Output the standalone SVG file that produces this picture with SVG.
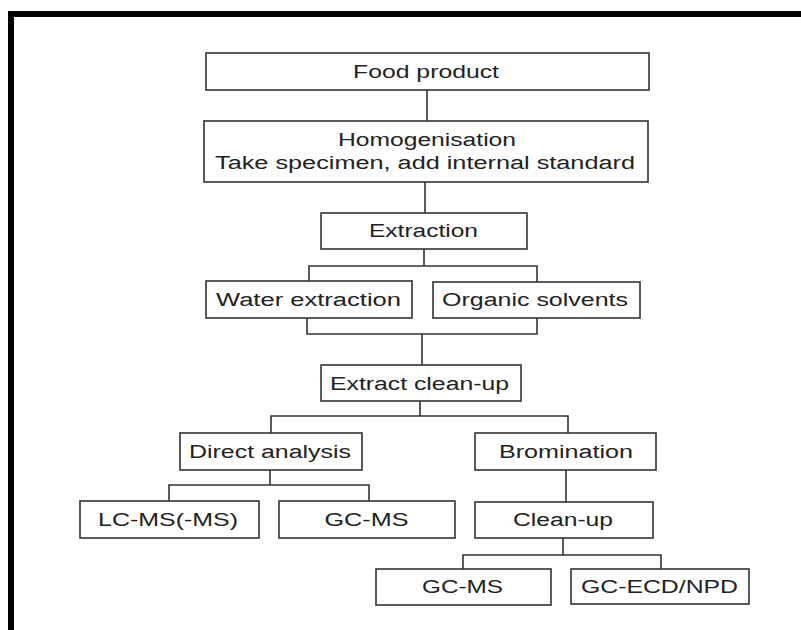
<svg xmlns="http://www.w3.org/2000/svg" width="801" height="630" viewBox="0 0 801 630">
<style>
.box{fill:#fff;stroke:#333;stroke-width:1.6}
.lbl{font-family:"Liberation Sans",Arial,sans-serif;font-size:18px;fill:#222;text-anchor:middle}
.con{fill:none;stroke:#333;stroke-width:1.6}
</style>
<rect x="0" y="0" width="801" height="630" fill="#fff"/>
<g id="frame">
<rect x="8" y="11" width="793" height="6" fill="#000"/>
<rect x="8" y="11" width="6" height="619" fill="#000"/>
</g>
<g id="connectors">
<path class="con" d="M427 90V121"/>
<path class="con" d="M425 182V213"/>
<path class="con" d="M424 249V266M309 281V266H537V282"/>
<path class="con" d="M307 318V334H537V318M422 334V365"/>
<path class="con" d="M420 401V416M271 433V416H568V433"/>
<path class="con" d="M270 470V485M169 501V485H369V501"/>
<path class="con" d="M566 470V502"/>
<path class="con" d="M563 538V555M463 569V555H661V569"/>
</g>
<g id="food-product"><rect class="box" x="206" y="53" width="443" height="37"/><text class="lbl" x="426" y="78" textLength="146" lengthAdjust="spacingAndGlyphs">Food product</text></g>
<g id="homogenisation"><rect class="box" x="204" y="121" width="444" height="61"/><text class="lbl" x="427" y="146" textLength="178" lengthAdjust="spacingAndGlyphs">Homogenisation</text><text class="lbl" x="425" y="169" textLength="420" lengthAdjust="spacingAndGlyphs">Take specimen, add internal standard</text></g>
<g id="extraction"><rect class="box" x="321" y="213" width="206" height="36"/><text class="lbl" x="423.5" y="237" textLength="109" lengthAdjust="spacingAndGlyphs">Extraction</text></g>
<g id="water-extraction"><rect class="box" x="206" y="281" width="206" height="37"/><text class="lbl" x="308.5" y="306" textLength="185" lengthAdjust="spacingAndGlyphs">Water extraction</text></g>
<g id="organic-solvents"><rect class="box" x="433" y="282" width="207" height="36"/><text class="lbl" x="535" y="306" textLength="186" lengthAdjust="spacingAndGlyphs">Organic solvents</text></g>
<g id="extract-clean-up"><rect class="box" x="321" y="365" width="200" height="36"/><text class="lbl" x="419.5" y="389.5" textLength="179" lengthAdjust="spacingAndGlyphs">Extract clean-up</text></g>
<g id="direct-analysis"><rect class="box" x="180" y="433" width="182" height="37"/><text class="lbl" x="270" y="458" textLength="162" lengthAdjust="spacingAndGlyphs">Direct analysis</text></g>
<g id="bromination"><rect class="box" x="475" y="433" width="181" height="37"/><text class="lbl" x="566" y="458" textLength="134" lengthAdjust="spacingAndGlyphs">Bromination</text></g>
<g id="lc-ms"><rect class="box" x="80" y="501" width="179" height="37"/><text class="lbl" x="168" y="526" textLength="140" lengthAdjust="spacingAndGlyphs">LC-MS(-MS)</text></g>
<g id="gc-ms-1"><rect class="box" x="279" y="501" width="176" height="37"/><text class="lbl" x="366.5" y="526" textLength="84" lengthAdjust="spacingAndGlyphs">GC-MS</text></g>
<g id="clean-up"><rect class="box" x="475" y="502" width="178" height="36"/><text class="lbl" x="563" y="526" textLength="100" lengthAdjust="spacingAndGlyphs">Clean-up</text></g>
<g id="gc-ms-2"><rect class="box" x="376" y="569" width="175" height="36"/><text class="lbl" x="462.5" y="593" textLength="81" lengthAdjust="spacingAndGlyphs">GC-MS</text></g>
<g id="gc-ecd-npd"><rect class="box" x="571" y="569" width="178" height="35"/><text class="lbl" x="659.5" y="593" textLength="157" lengthAdjust="spacingAndGlyphs">GC-ECD/NPD</text></g>
</svg>
